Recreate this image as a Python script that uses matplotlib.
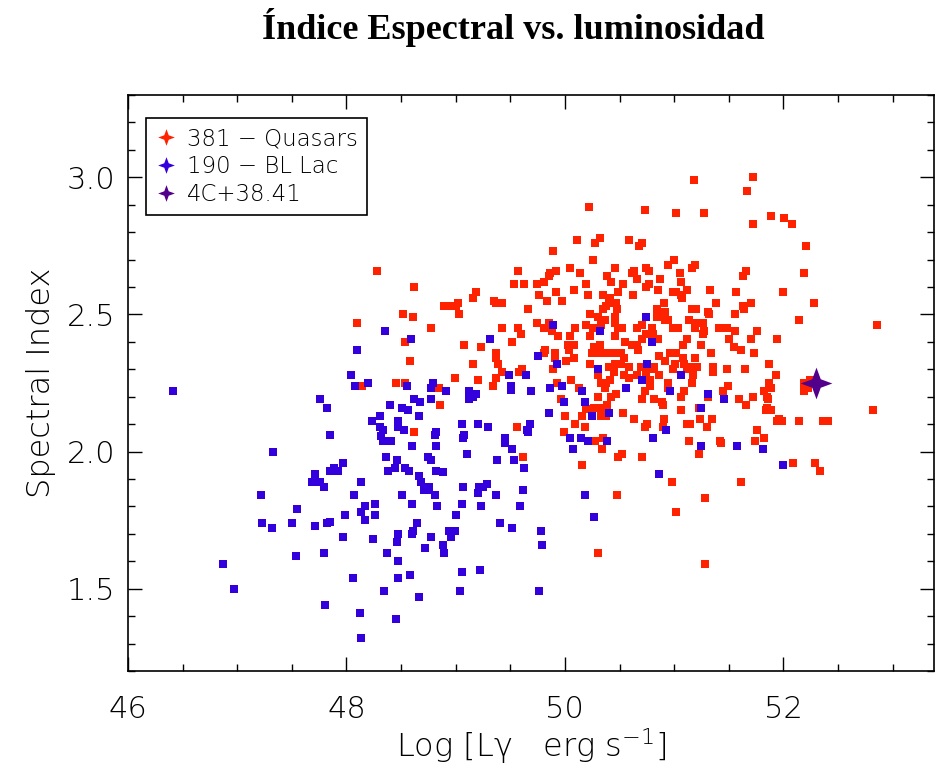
import matplotlib
matplotlib.use('Agg')
import matplotlib.pyplot as plt
from matplotlib.lines import Line2D
from matplotlib.path import Path
from matplotlib.ticker import MultipleLocator

# Flat-spectrum radio quasars: log gamma-ray luminosity and photon index
qso_logl = [
    48.28, 49.57, 48.62, 49.53, 49.63, 49.74, 49.76, 49.19, 49.16, 49.35,
    49.37, 49.42, 48.89, 48.95, 49.00, 49.02, 49.03, 48.52, 48.61, 49.66,
    48.10, 48.77, 49.42, 49.57, 49.74, 51.18, 50.22, 50.73, 51.02, 51.27,
    50.11, 50.32, 50.28, 50.59, 50.71, 50.68, 49.89, 50.26, 51.00, 50.94,
    51.19, 51.16, 49.92, 50.05, 50.46, 50.63, 50.74, 50.77, 49.86, 49.85,
    50.14, 50.61, 51.05, 49.81, 50.39, 50.42, 50.66, 50.87, 50.19, 50.53,
    51.06, 50.74, 50.77, 50.85, 50.08, 51.33, 50.99, 51.12, 49.92, 49.84,
    49.97, 50.21, 50.35, 50.41, 50.49, 50.62, 51.02, 51.06, 51.07, 51.38,
    50.38, 50.40, 50.47, 50.48, 50.35, 50.84, 50.91, 50.92, 51.16, 51.20,
    51.31, 51.32, 50.23, 50.30, 50.46, 50.84, 50.37, 50.46, 50.92, 50.94,
    51.14, 51.21, 51.26, 49.85, 50.19, 50.26, 50.33, 49.81, 50.09, 50.49,
    50.52, 50.66, 50.71, 50.80, 50.99, 51.04, 51.19, 51.27, 51.41, 51.48,
    51.72, 51.67, 51.89, 52.01, 51.72, 52.08, 52.21, 51.66, 51.63, 52.19,
    51.57, 52.00, 51.70, 51.63, 51.64, 51.56, 52.28, 52.14, 52.86, 51.56,
    51.76, 49.60, 48.54, 49.08, 49.23, 49.52, 49.37, 49.37, 49.39, 48.58,
    49.16, 49.42, 49.61, 49.58, 48.99, 49.20, 49.37, 49.34, 48.14, 48.45,
    48.54, 48.85, 48.86, 48.62, 49.56, 49.62, 50.98, 50.48, 51.28, 51.02,
    50.30, 51.28, 51.61, 49.88, 50.46, 50.23, 50.05, 49.94, 50.74, 50.81,
    50.85, 50.71, 51.26, 51.50, 51.08, 51.12, 51.25, 50.03, 50.08, 50.04,
    50.27, 50.32, 50.32, 50.38, 50.25, 50.55, 50.61, 50.66, 50.67, 50.48,
    50.51, 50.54, 50.44, 49.82, 49.81, 49.91, 49.91, 50.01, 50.08, 49.89,
    50.23, 50.30, 50.40, 50.46, 50.51, 50.59, 50.70, 50.82, 50.82, 50.74,
    50.86, 50.92, 50.96, 51.02, 51.08, 51.19, 51.01, 51.09, 51.15, 51.21,
    50.99, 51.12, 51.17, 51.17, 51.34, 51.36, 51.36, 51.48, 50.06, 49.93,
    50.54, 50.59, 50.66, 50.45, 50.41, 50.38, 50.33, 50.37, 50.78, 50.78,
    50.73, 50.86, 50.94, 50.94, 51.16, 51.09, 51.06, 51.31, 51.45, 51.49,
    50.13, 49.96, 50.47, 50.42, 50.30, 50.71, 50.82, 50.89, 50.90, 50.27,
    50.33, 50.39, 50.19, 50.33, 50.38, 50.53, 50.00, 50.16, 50.63, 50.75,
    50.73, 50.91, 50.90, 51.06, 51.12, 51.15, 51.23, 51.24, 51.35, 51.30,
    50.09, 50.18, 49.99, 50.28, 50.35, 50.34, 51.14, 51.42, 51.43, 50.52,
    50.49, 50.71, 51.23, 50.16, 51.70, 51.94, 51.55, 51.61, 51.73, 51.87,
    51.65, 51.93, 52.24, 52.19, 52.19, 52.23, 51.87, 51.89, 51.82, 51.59,
    51.72, 51.66, 51.85, 51.86, 51.85, 51.84, 51.89, 52.82, 51.96, 51.94,
    51.99, 52.14, 52.36, 52.41, 51.76, 51.82, 51.74, 52.09, 52.29, 52.34,
]
qso_index = [
    2.66, 2.66, 2.60, 2.61, 2.61, 2.61, 2.57, 2.58, 2.56, 2.55,
    2.54, 2.54, 2.53, 2.53, 2.53, 2.54, 2.50, 2.50, 2.49, 2.52,
    2.47, 2.45, 2.45, 2.45, 2.47, 2.99, 2.89, 2.88, 2.87, 2.87,
    2.77, 2.78, 2.76, 2.77, 2.76, 2.75, 2.73, 2.70, 2.70, 2.68,
    2.68, 2.67, 2.66, 2.67, 2.67, 2.66, 2.67, 2.66, 2.65, 2.64,
    2.65, 2.65, 2.65, 2.62, 2.64, 2.62, 2.63, 2.63, 2.61, 2.61,
    2.62, 2.60, 2.61, 2.59, 2.59, 2.59, 2.58, 2.59, 2.58, 2.55,
    2.55, 2.57, 2.57, 2.56, 2.58, 2.57, 2.58, 2.57, 2.56, 2.54,
    2.53, 2.54, 2.54, 2.52, 2.52, 2.52, 2.54, 2.51, 2.52, 2.52,
    2.51, 2.50, 2.50, 2.49, 2.49, 2.49, 2.48, 2.47, 2.48, 2.48,
    2.48, 2.47, 2.47, 2.47, 2.46, 2.45, 2.46, 2.45, 2.45, 2.45,
    2.45, 2.45, 2.46, 2.45, 2.45, 2.45, 2.45, 2.44, 2.45, 2.45,
    3.00, 2.95, 2.86, 2.85, 2.83, 2.83, 2.75, 2.66, 2.64, 2.65,
    2.58, 2.58, 2.54, 2.53, 2.52, 2.50, 2.54, 2.48, 2.46, 2.44,
    2.44, 2.43, 2.40, 2.39, 2.38, 2.40, 2.36, 2.34, 2.32, 2.33,
    2.32, 2.29, 2.30, 2.29, 2.27, 2.26, 2.27, 2.24, 2.24, 2.25,
    2.25, 2.23, 2.17, 2.07, 2.09, 1.98, 1.89, 1.84, 1.83, 1.78,
    1.63, 1.59, 1.89, 2.44, 2.42, 2.42, 2.42, 2.42, 2.43, 2.43,
    2.41, 2.41, 2.43, 2.41, 2.39, 2.41, 2.39, 2.39, 2.39, 2.37,
    2.38, 2.39, 2.36, 2.36, 2.36, 2.40, 2.39, 2.39, 2.37, 2.36,
    2.36, 2.34, 2.36, 2.37, 2.36, 2.36, 2.34, 2.33, 2.34, 2.30,
    2.32, 2.28, 2.31, 2.32, 2.32, 2.31, 2.31, 2.31, 2.30, 2.29,
    2.35, 2.33, 2.36, 2.36, 2.34, 2.34, 2.32, 2.32, 2.31, 2.31,
    2.30, 2.30, 2.30, 2.28, 2.36, 2.31, 2.29, 2.30, 2.26, 2.25,
    2.28, 2.27, 2.28, 2.29, 2.26, 2.25, 2.25, 2.23, 2.26, 2.24,
    2.22, 2.28, 2.25, 2.23, 2.25, 2.22, 2.20, 2.20, 2.22, 2.24,
    2.23, 2.19, 2.21, 2.20, 2.20, 2.19, 2.19, 2.18, 2.17, 2.16,
    2.16, 2.17, 2.155, 2.13, 2.13, 2.14, 2.13, 2.13, 2.12, 2.10,
    2.09, 2.12, 2.09, 2.15, 2.10, 2.10, 2.16, 2.12, 2.12, 2.09,
    2.10, 2.09, 2.07, 2.04, 2.05, 2.01, 2.04, 2.04, 2.03, 1.99,
    1.98, 1.98, 1.99, 1.95, 2.41, 2.41, 2.38, 2.37, 2.36, 2.32,
    2.30, 2.28, 2.26, 2.25, 2.22, 2.23, 2.25, 2.23, 2.22, 2.19,
    2.20, 2.17, 2.20, 2.19, 2.16, 2.15, 2.15, 2.15, 2.12, 2.11,
    2.11, 2.11, 2.11, 2.11, 2.08, 2.05, 2.04, 1.96, 1.96, 1.93,
]

# BL Lacertae objects
bll_logl = [
    48.35, 50.74, 49.89, 50.32, 46.41, 47.76, 47.82, 47.85, 47.33, 47.97,
    47.89, 47.92, 47.85, 47.71, 47.68, 47.76, 47.79, 48.59, 48.10, 49.31,
    49.75, 49.64, 49.49, 48.04, 48.08, 48.20, 48.55, 48.79, 48.77, 48.91,
    49.51, 49.51, 49.69, 49.12, 49.19, 49.16, 49.12, 48.62, 48.67, 48.77,
    48.40, 48.51, 48.56, 48.66, 48.31, 48.23, 48.47, 48.47, 48.31, 48.33,
    48.53, 48.82, 48.81, 48.32, 48.33, 48.41, 49.06, 49.20, 49.30, 49.68,
    49.65, 49.66, 49.08, 49.07, 49.45, 49.45, 49.52, 48.60, 48.82, 49.10,
    48.36, 48.46, 48.75, 48.77, 49.38, 49.53, 49.63, 48.44, 48.38, 48.54,
    48.57, 48.82, 48.88, 48.66, 48.68, 48.13, 48.76, 48.71, 49.07, 49.21,
    49.29, 49.62, 48.07, 48.17, 48.26, 48.13, 47.99, 48.26, 48.17, 48.51,
    48.76, 48.81, 48.60, 48.83, 49.20, 49.25, 49.37, 49.06, 49.23, 49.59,
    49.00, 48.65, 48.61, 48.60, 48.47, 48.46, 48.77, 48.94, 48.99, 48.96,
    48.88, 48.89, 48.72, 49.41, 49.52, 47.97, 48.24, 48.37, 48.47, 48.58,
    48.47, 48.06, 48.34, 48.66, 49.06, 49.22, 49.04, 48.12, 48.45, 48.13,
    50.18, 50.27, 49.78, 49.79, 49.76, 47.22, 47.55, 47.23, 47.32, 47.50,
    47.71, 47.82, 47.85, 47.54, 47.79, 46.87, 46.97, 47.80, 50.80, 49.93,
    50.30, 50.75, 51.06, 49.97, 50.71, 50.56, 50.96, 51.31, 51.46, 49.86,
    50.16, 49.99, 50.18, 50.40, 50.25, 49.85, 50.93, 51.25, 50.05, 50.15,
    50.21, 50.39, 50.07, 50.81, 51.25, 50.86, 51.58, 51.81, 52.00,
]
bll_index = [
    2.44, 2.49, 2.46, 2.44, 2.22, 2.19, 2.16, 2.06, 2.00, 1.96,
    1.94, 1.93, 1.93, 1.92, 1.89, 1.89, 1.87, 2.41, 2.37, 2.41,
    2.35, 2.28, 2.28, 2.28, 2.24, 2.25, 2.24, 2.25, 2.23, 2.22,
    2.24, 2.225, 2.22, 2.22, 2.21, 2.20, 2.19, 2.19, 2.18, 2.19,
    2.17, 2.16, 2.15, 2.13, 2.13, 2.11, 2.11, 2.09, 2.09, 2.08,
    2.08, 2.07, 2.06, 2.055, 2.04, 2.04, 2.10, 2.10, 2.09, 2.10,
    2.08, 2.07, 2.06, 2.05, 2.05, 2.03, 2.01, 2.02, 2.02, 1.99,
    1.98, 1.97, 1.98, 1.97, 1.97, 1.97, 1.94, 1.94, 1.93, 1.94,
    1.93, 1.93, 1.925, 1.91, 1.89, 1.89, 1.87, 1.86, 1.87, 1.87,
    1.88, 1.86, 1.84, 1.80, 1.81, 1.78, 1.77, 1.77, 1.75, 1.84,
    1.86, 1.84, 1.81, 1.80, 1.85, 1.87, 1.84, 1.81, 1.80, 1.80,
    1.77, 1.74, 1.71, 1.70, 1.70, 1.67, 1.69, 1.71, 1.71, 1.69,
    1.66, 1.63, 1.65, 1.74, 1.72, 1.69, 1.68, 1.63, 1.60, 1.55,
    1.54, 1.54, 1.49, 1.47, 1.56, 1.57, 1.49, 1.41, 1.39, 1.32,
    1.84, 1.76, 1.71, 1.66, 1.49, 1.84, 1.79, 1.74, 1.72, 1.74,
    1.73, 1.74, 1.745, 1.62, 1.63, 1.59, 1.50, 1.44, 2.40, 2.32,
    2.30, 2.32, 2.28, 2.24, 2.26, 2.23, 2.22, 2.21, 2.19, 2.23,
    2.22, 2.18, 2.18, 2.14, 2.13, 2.14, 2.08, 2.16, 2.05, 2.05,
    2.04, 2.04, 2.01, 2.05, 2.02, 1.92, 2.02, 2.01, 1.95,
]

# 4C +38.41
src_logl = [52.30]
src_index = [2.25]

labels = ['381 \u2212 Quasars', '190 \u2212 BL Lac', '4C+38.41']

RED = '#ff2200'
BLUE = '#3300dd'
PURPLE = '#52008c'

star = Path.unit_regular_star(4, 0.38)

plt.rcParams['font.family'] = 'DejaVu Sans'
plt.rcParams['mathtext.fontset'] = 'custom'
plt.rcParams['mathtext.rm'] = 'DejaVu Sans:light'
plt.rcParams['mathtext.it'] = 'DejaVu Sans:light'

fig = plt.figure(figsize=(9.36, 7.76), dpi=100)
ax = fig.add_axes([0.1368, 0.1353, 0.8611, 0.7423])

ax.scatter(qso_logl, qso_index, s=32, marker='s', color=RED, linewidths=0, zorder=2)
ax.scatter(bll_logl, bll_index, s=32, marker='s', color=BLUE, linewidths=0, zorder=3)
ax.scatter(src_logl, src_index, s=520, marker=star, color=PURPLE, linewidths=0, zorder=4)

ax.set_xlim(46, 53.38)
ax.set_ylim(1.2, 3.3)
ax.xaxis.set_major_locator(MultipleLocator(2))
ax.xaxis.set_minor_locator(MultipleLocator(0.5))
ax.yaxis.set_major_locator(MultipleLocator(0.5))
ax.yaxis.set_minor_locator(MultipleLocator(0.1))
ax.tick_params(which='both', direction='in', top=True, right=True, width=1)
ax.tick_params(which='major', length=10)
ax.tick_params(which='minor', length=5)
ax.tick_params(axis='x', which='major', pad=17, labelsize=22)
ax.tick_params(axis='y', which='major', pad=9, labelsize=22)
for lab in ax.get_xticklabels() + ax.get_yticklabels():
    lab.set_fontweight('light')
for sp in ax.spines.values():
    sp.set_linewidth(1.2)

ax.set_xlabel(r'Log [L$\gamma$   erg s$^{-1}$]', fontsize=23, fontweight='light', labelpad=2)
ax.set_ylabel('Spectral Index', fontsize=23, fontweight='light', labelpad=8)

fig.text(0.548, 0.964, '\u00cdndice Espectral vs. luminosidad', ha='center', va='center',
         fontsize=26, fontweight='bold', family='Liberation Serif')

handles = [
    Line2D([], [], ls='none', marker=star, ms=12, color=RED, markeredgewidth=0),
    Line2D([], [], ls='none', marker=star, ms=12, color=BLUE, markeredgewidth=0),
    Line2D([], [], ls='none', marker=star, ms=12, color=PURPLE, markeredgewidth=0),
]
leg = ax.legend(handles, labels, loc='upper left', bbox_to_anchor=(0.022, 0.96),
                borderaxespad=0, fontsize=16.5, numpoints=1, handlelength=0.95,
                handletextpad=0.45, labelspacing=0.22, borderpad=0.4,
                fancybox=False, framealpha=1, edgecolor='black')
leg.get_frame().set_linewidth(1.2)
for txt in leg.get_texts():
    txt.set_fontweight('light')

fig.savefig('out.png', dpi=100)
